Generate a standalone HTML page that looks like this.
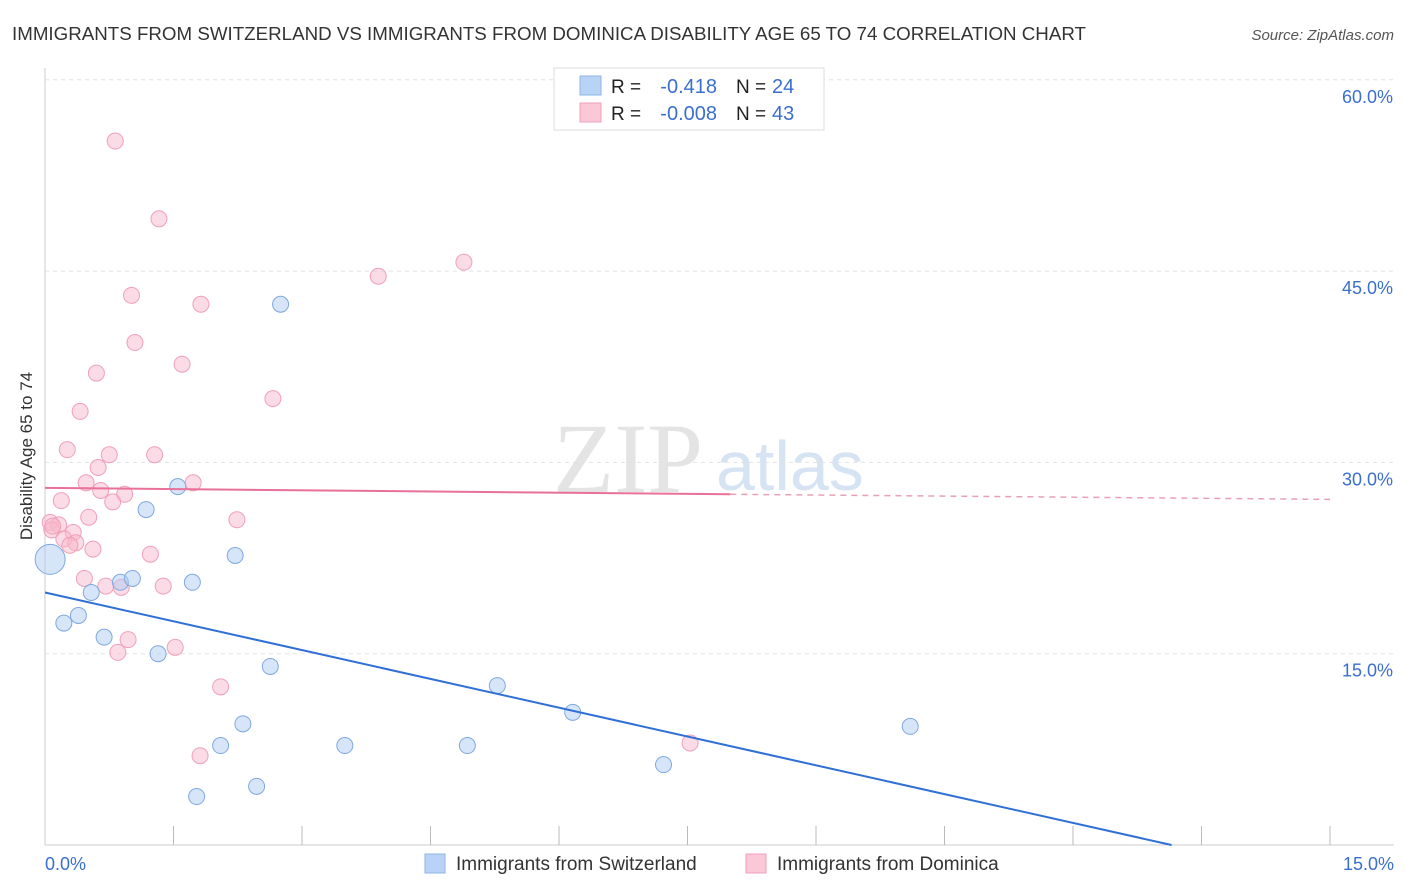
<!DOCTYPE html>
<html><head><meta charset="utf-8"><style>
body{margin:0;background:#fff;font-family:"Liberation Sans",sans-serif;}
svg{display:block}
</style></head><body>
<svg id="c" width="1406" height="892" xmlns="http://www.w3.org/2000/svg">
<text x="12" y="40" font-size="18" fill="#333" textLength="1074" lengthAdjust="spacingAndGlyphs">IMMIGRANTS FROM SWITZERLAND VS IMMIGRANTS FROM DOMINICA DISABILITY AGE 65 TO 74 CORRELATION CHART</text>
<text x="1394" y="40" font-size="15" fill="#555" font-style="italic" text-anchor="end">Source: ZipAtlas.com</text>
<text x="32" y="456" font-size="17" fill="#333" text-anchor="middle" transform="rotate(-90 32 456)">Disability Age 65 to 74</text>
<text x="553" y="492" font-size="100" fill="#e4e4e4" font-family="Liberation Serif,serif">ZIP</text>
<text x="716" y="490" font-size="70" fill="#d6e3f3">atlas</text>
<g id="grid"></g><g id="marks"></g>
<g>
<rect x="554" y="68" width="270" height="62" fill="#fff" stroke="#ddd"/>
<rect x="580" y="76" width="21" height="19" fill="#b8d3f5" stroke="#8fb4e8"/>
<rect x="580" y="103" width="21" height="19" fill="#fac8d6" stroke="#f0a0b8"/>
<text x="611" y="93" font-size="19" fill="#222">R =</text>
<text x="717" y="93" font-size="20" fill="#3a6fd0" text-anchor="end">-0.418</text>
<text x="736" y="93" font-size="19" fill="#222">N =</text>
<text x="772" y="93" font-size="20" fill="#3a6fd0">24</text>
<text x="611" y="120" font-size="19" fill="#222">R =</text>
<text x="717" y="120" font-size="20" fill="#3a6fd0" text-anchor="end">-0.008</text>
<text x="736" y="120" font-size="19" fill="#222">N =</text>
<text x="772" y="120" font-size="20" fill="#3a6fd0">43</text>
</g>
<g>
<rect x="425" y="854" width="20" height="19" fill="#b8d3f5" stroke="#8fb4e8"/>
<text x="456" y="870" font-size="19" fill="#333">Immigrants from Switzerland</text>
<rect x="746" y="854" width="20" height="19" fill="#fac8d6" stroke="#f0a0b8"/>
<text x="777" y="870" font-size="19" fill="#333">Immigrants from Dominica</text>
</g>
</svg>
<script>
const blueX=[0.06,0.22,0.39,0.54,0.69,0.88,1.02,1.18,1.32,1.55,1.72,1.77,2.05,2.22,2.31,2.47,2.63,2.75,3.5,4.93,5.28,6.16,7.22,10.1];
const blueY=[22.4,17.4,18.0,19.8,16.3,20.6,20.9,26.3,15.0,28.1,20.6,3.8,7.8,22.7,9.5,4.6,14.0,42.4,7.8,7.8,12.5,10.4,6.3,9.3];
const pinkX=[0.82,1.33,1.01,1.82,3.89,4.89,1.05,1.6,0.6,2.66,0.41,0.26,0.75,1.28,0.62,1.73,0.48,0.65,0.93,0.19,0.79,0.51,2.24,0.06,0.16,0.08,0.33,0.22,0.36,0.29,0.56,1.23,0.46,0.71,0.89,1.38,0.97,1.52,0.85,2.05,1.81,7.53,0.09];
const pinkY=[55.2,49.1,43.1,42.4,44.6,45.7,39.4,37.7,37.0,35.0,34.0,31.0,30.6,30.6,29.6,28.4,28.4,27.8,27.5,27.0,26.9,25.7,25.5,25.3,25.1,24.7,24.5,24.0,23.7,23.5,23.2,22.8,20.9,20.3,20.2,20.3,16.1,15.5,15.1,12.4,7.0,8.0,25.0];
const xTicks=[0,1.5,3,4.5,6,7.5,9,10.5,12,13.5,15];
const yTicks=[15,30,45,60];
const blueTrend=[[0,19.8],[13.15,0]];
const pinkTrend=[[0,28.0],[8.0,27.5],[15,27.1]];
const X=v=>45+v/15*1285, Y=v=>845-v/15*191.3;
const NS="http://www.w3.org/2000/svg";
const g=document.getElementById('grid'), m=document.getElementById('marks');
function mk(p,t,a){const e=document.createElementNS(NS,t);for(const k in a)e.setAttribute(k,a[k]);p.appendChild(e);return e;}
let ax=mk(g,'line',{x1:45,y1:68,x2:45,y2:845,stroke:'#ccc'});


let bx=mk(g,'line',{x1:45,y1:845,x2:1394,y2:845,stroke:'#ccc'});


yTicks.forEach(t=>{
 const l=mk(g,'line',{x1:45,x2:1394,y1:Y(t),y2:Y(t),stroke:'#e2e2e2','stroke-dasharray':'4,4'});
 
 
 const tx=mk(g,'text',{x:1393,y:Y(t)+23,'font-size':18,fill:'#3a6fd0','text-anchor':'end'});
 tx.textContent=t.toFixed(1)+'%';
 
 
});
xTicks.forEach((t,i)=>{ if(i==0)return;
 const l=mk(g,'line',{x1:X(t),x2:X(t),y1:826,y2:845,stroke:'#bbb'});
 
 
});
[[0,'start',45],[15,'end',1394]].forEach(([t,a,x])=>{
 const tx=mk(g,'text',{x:x,y:870,'font-size':18,fill:'#3a6fd0','text-anchor':a});
 tx.textContent=t.toFixed(1)+'%';
 
 
});
pinkX.forEach((x,i)=>{
 const c=mk(m,'circle',{cx:X(x),cy:Y(pinkY[i]),r:8,fill:'rgba(248,184,204,0.5)',stroke:'#f0a0b8','stroke-width':1});
 
 
});
blueX.forEach((x,i)=>{
 const c=mk(m,'circle',{cx:X(x),cy:Y(blueY[i]),r:i==0?15:8,fill:'rgba(176,204,242,0.5)',stroke:'#7fa8e0','stroke-width':1});
 
 
});
let bl=mk(m,'line',{x1:X(blueTrend[0][0]),y1:Y(blueTrend[0][1]),x2:X(blueTrend[1][0]),y2:Y(blueTrend[1][1]),stroke:'#2f6fd6','stroke-width':2});


let pl=mk(m,'line',{x1:X(pinkTrend[0][0]),y1:Y(pinkTrend[0][1]),x2:X(pinkTrend[1][0]),y2:Y(pinkTrend[1][1]),stroke:'#e8709a','stroke-width':2});


let pd=mk(m,'line',{x1:X(pinkTrend[1][0]),y1:Y(pinkTrend[1][1]),x2:X(pinkTrend[2][0]),y2:Y(pinkTrend[2][1]),stroke:'#e8a0b8','stroke-width':1.5,'stroke-dasharray':'6,5'});


</script>
</body></html>
